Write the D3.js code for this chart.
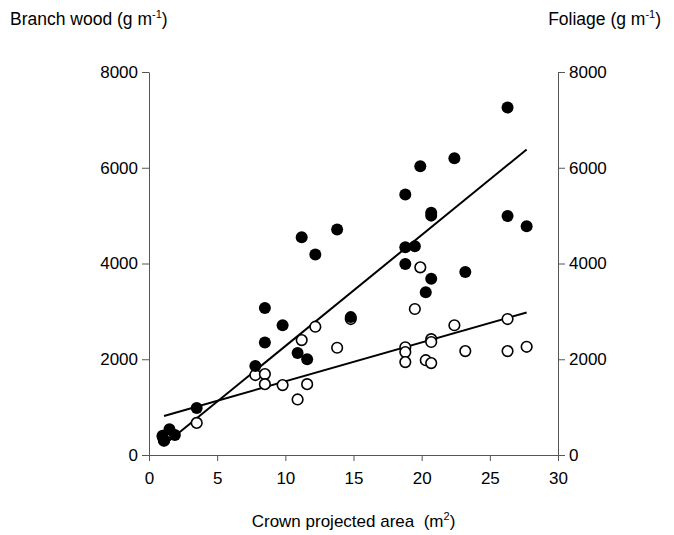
<!DOCTYPE html>
<html><head><meta charset="utf-8">
<script src="https://cdn.jsdelivr.net/npm/d3@7"></script>
<style>body{margin:0;background:#fff;} text{font-family:"Liberation Sans",Arial,sans-serif;}</style>
</head><body>
<svg id="chart" width="674" height="535"></svg>
<script>
const xTicks = [0, 5, 10, 15, 20, 25, 30];
const yTicks = [0, 2000, 4000, 6000, 8000];

const branchX = [1.0, 1.1, 1.5, 1.9, 3.5, 7.8, 8.5, 8.5, 9.8, 10.9, 11.2, 11.6, 12.2, 13.8, 14.8, 18.8, 18.8, 18.8, 19.5, 19.9, 20.3, 20.7, 20.7, 20.7, 22.4, 23.2, 26.3, 26.3, 27.7];
const branchY = [380, 310, 540, 420, 980, 1860, 2350, 3070, 2710, 2130, 4550, 2000, 4190, 4710, 2880, 5440, 4340, 3990, 4360, 6030, 3400, 5060, 5000, 3680, 6200, 3820, 7260, 4990, 4780];

const foliageX = [1.0, 1.1, 1.5, 3.5, 7.8, 8.5, 8.5, 9.8, 10.9, 11.2, 11.6, 12.2, 13.8, 14.8, 18.8, 18.8, 18.8, 19.5, 19.9, 20.3, 20.7, 20.7, 20.7, 22.4, 23.2, 26.3, 26.3, 27.7];
const foliageY = [400, 300, 470, 670, 1670, 1690, 1480, 1460, 1160, 2400, 1480, 2680, 2240, 2840, 2250, 2150, 1940, 3050, 3920, 1980, 2420, 2360, 1920, 2710, 2170, 2840, 2170, 2260];

// regression lines: [slope, intercept, xStart, xEnd]
const branchFit = [232, -45, 1.0, 27.7];
const foliageFit = [81.3, 725, 1.1, 27.7];

const svg = d3.select("#chart");
const mLeft = 149, mRight = 558, mTop = 72, mBottom = 455;
const x = d3.scaleLinear().domain([0, 30]).range([mLeft, mRight]);
const y = d3.scaleLinear().domain([0, 8000]).range([mBottom, mTop]);
const axisColor = "#555";

function styleAxis(g) {
  g.selectAll("path.domain").attr("stroke", axisColor).attr("stroke-width", 1);
  g.selectAll(".tick line").attr("stroke", axisColor);
  g.selectAll(".tick text").attr("fill", "#000").style("font-size", "17px").style("font-family", "'Liberation Sans', Arial, sans-serif");
}

svg.append("g").attr("transform", `translate(0,${mBottom})`)
  .call(d3.axisBottom(x).tickValues(xTicks).tickSize(6).tickSizeOuter(0).tickPadding(11))
  .call(styleAxis);
svg.append("g").attr("transform", `translate(${mLeft},0)`)
  .call(d3.axisLeft(y).tickValues(yTicks).tickSize(7).tickSizeOuter(0).tickPadding(4).tickFormat(d3.format("d")))
  .call(styleAxis);
svg.append("g").attr("transform", `translate(${mRight},0)`)
  .call(d3.axisRight(y).tickValues(yTicks).tickSize(7).tickSizeOuter(0).tickPadding(4).tickFormat(d3.format("d")))
  .call(styleAxis);

// lines
const lineGen = d3.line().x(d => x(d[0])).y(d => y(d[1]));
[branchFit, foliageFit].forEach(f => {
  const pts = [[f[2], f[0]*f[2]+f[1]], [f[3], f[0]*f[3]+f[1]]];
  svg.append("path").attr("d", lineGen(pts)).attr("stroke", "#000").attr("stroke-width", 2).attr("fill", "none");
});

// foliage (open)
svg.append("g").selectAll("circle").data(foliageX.map((v, i) => [v, foliageY[i]])).join("circle")
  .attr("cx", d => x(d[0])).attr("cy", d => y(d[1])).attr("r", 5.3)
  .attr("fill", "#fff").attr("stroke", "#000").attr("stroke-width", 1.6);

// branch wood (filled)
svg.append("g").selectAll("circle").data(branchX.map((v, i) => [v, branchY[i]])).join("circle")
  .attr("cx", d => x(d[0])).attr("cy", d => y(d[1])).attr("r", 6)
  .attr("fill", "#000");

// titles
const t1 = svg.append("text").attr("x", 10).attr("y", 25).style("font-size", "17.5px");
t1.append("tspan").text("Branch wood (g m");
t1.append("tspan").attr("dy", -7).style("font-size", "11px").text("-1");
t1.append("tspan").attr("dy", 7).text(")");

const t2 = svg.append("text").attr("x", 661).attr("y", 25).attr("text-anchor", "end").style("font-size", "17.5px");
t2.append("tspan").text("Foliage (g m");
t2.append("tspan").attr("dy", -7).style("font-size", "11px").text("-1");
t2.append("tspan").attr("dy", 7).text(")");

const t3 = svg.append("text").attr("x", (mLeft + mRight) / 2).attr("y", 527).attr("text-anchor", "middle").style("font-size", "17px");
t3.append("tspan").text("Crown projected area\u00a0\u00a0(m");
t3.append("tspan").attr("dy", -7).style("font-size", "11px").text("2");
t3.append("tspan").attr("dy", 7).text(")");
</script>
</body></html>
